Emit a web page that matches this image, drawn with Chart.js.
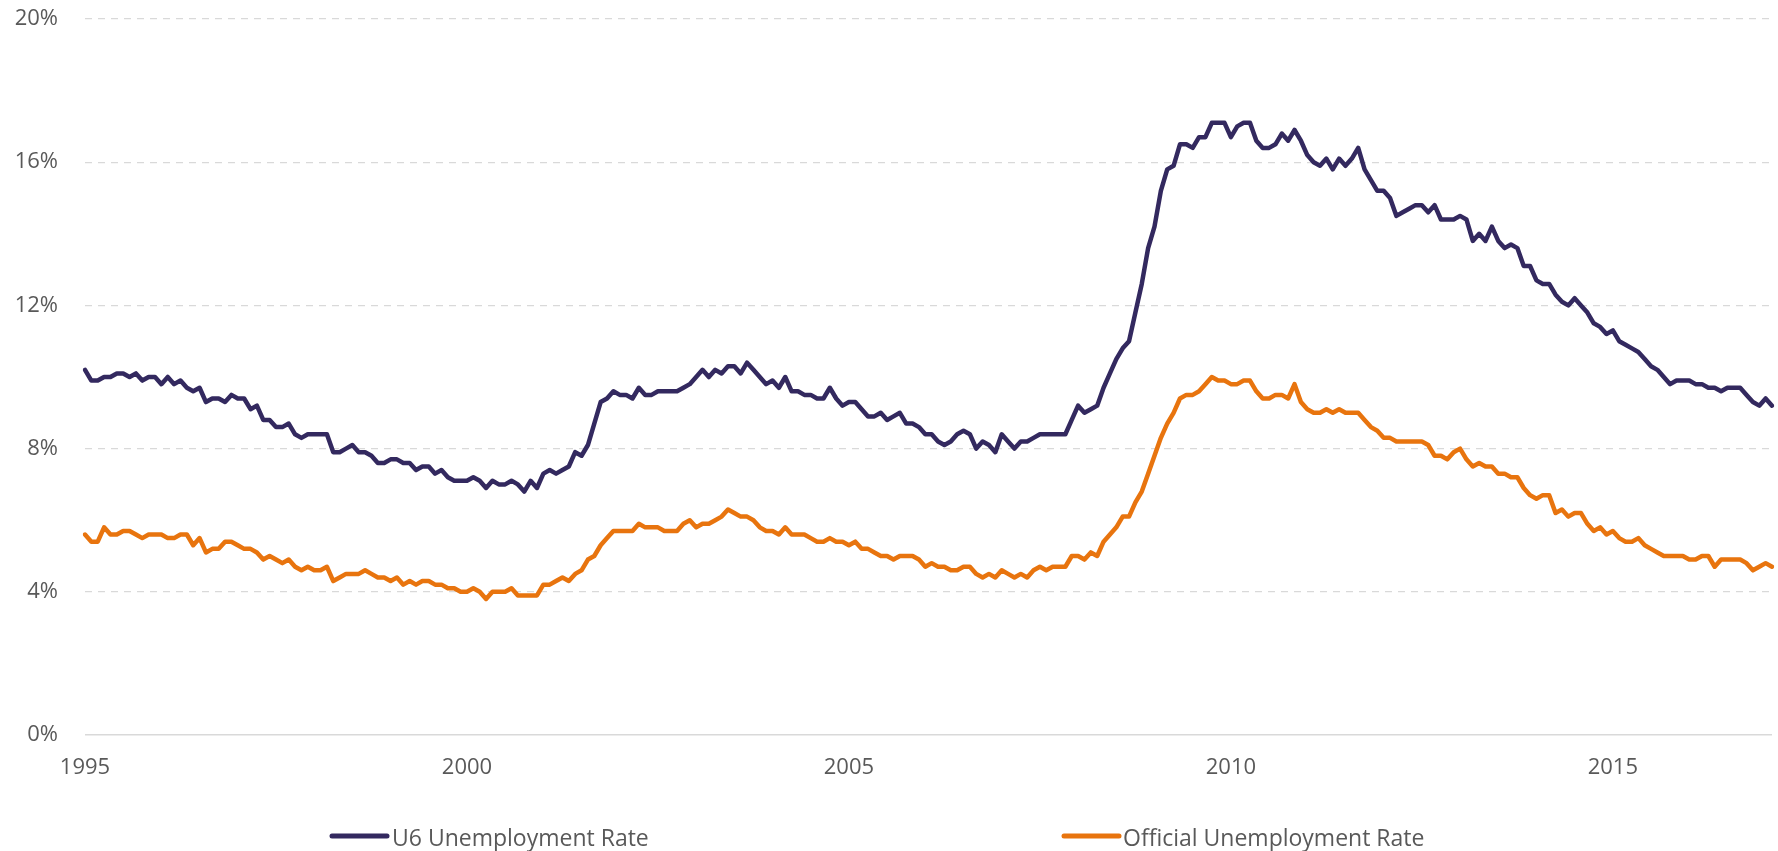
<!DOCTYPE html>
<html>
<head>
<meta charset="utf-8">
<title>U6 vs Official Unemployment Rate</title>
<script src="https://cdn.jsdelivr.net/npm/chart.js@4.4.1/dist/chart.umd.min.js"></script>
<style>
    html, body { margin: 0; padding: 0; background: #ffffff; }
    #wrap { width: 1778px; height: 851px; }
</style>
</head>
<body>
<div id="wrap"><canvas id="rateChart" width="1778" height="851"></canvas></div>
<script>
/* ===============================
   DATA (monthly, Jan 1995 - Feb 2017)
================================ */
const startYear = 1995;

const u6Rate = [
    10.2, 9.9, 9.9, 10.0, 10.0, 10.1, 10.1, 10.0, 10.1, 9.9, 10.0, 10.0,   // 1995
    9.8, 10.0, 9.8, 9.9, 9.7, 9.6, 9.7, 9.3, 9.4, 9.4, 9.3, 9.5,           // 1996
    9.4, 9.4, 9.1, 9.2, 8.8, 8.8, 8.6, 8.6, 8.7, 8.4, 8.3, 8.4,            // 1997
    8.4, 8.4, 8.4, 7.9, 7.9, 8.0, 8.1, 7.9, 7.9, 7.8, 7.6, 7.6,            // 1998
    7.7, 7.7, 7.6, 7.6, 7.4, 7.5, 7.5, 7.3, 7.4, 7.2, 7.1, 7.1,            // 1999
    7.1, 7.2, 7.1, 6.9, 7.1, 7.0, 7.0, 7.1, 7.0, 6.8, 7.1, 6.9,            // 2000
    7.3, 7.4, 7.3, 7.4, 7.5, 7.9, 7.8, 8.1, 8.7, 9.3, 9.4, 9.6,            // 2001
    9.5, 9.5, 9.4, 9.7, 9.5, 9.5, 9.6, 9.6, 9.6, 9.6, 9.7, 9.8,            // 2002
    10.0, 10.2, 10.0, 10.2, 10.1, 10.3, 10.3, 10.1, 10.4, 10.2, 10.0, 9.8, // 2003
    9.9, 9.7, 10.0, 9.6, 9.6, 9.5, 9.5, 9.4, 9.4, 9.7, 9.4, 9.2,           // 2004
    9.3, 9.3, 9.1, 8.9, 8.9, 9.0, 8.8, 8.9, 9.0, 8.7, 8.7, 8.6,            // 2005
    8.4, 8.4, 8.2, 8.1, 8.2, 8.4, 8.5, 8.4, 8.0, 8.2, 8.1, 7.9,            // 2006
    8.4, 8.2, 8.0, 8.2, 8.2, 8.3, 8.4, 8.4, 8.4, 8.4, 8.4, 8.8,            // 2007
    9.2, 9.0, 9.1, 9.2, 9.7, 10.1, 10.5, 10.8, 11.0, 11.8, 12.6, 13.6,     // 2008
    14.2, 15.2, 15.8, 15.9, 16.5, 16.5, 16.4, 16.7, 16.7, 17.1, 17.1, 17.1, // 2009
    16.7, 17.0, 17.1, 17.1, 16.6, 16.4, 16.4, 16.5, 16.8, 16.6, 16.9, 16.6, // 2010
    16.2, 16.0, 15.9, 16.1, 15.8, 16.1, 15.9, 16.1, 16.4, 15.8, 15.5, 15.2, // 2011
    15.2, 15.0, 14.5, 14.6, 14.7, 14.8, 14.8, 14.6, 14.8, 14.4, 14.4, 14.4, // 2012
    14.5, 14.4, 13.8, 14.0, 13.8, 14.2, 13.8, 13.6, 13.7, 13.6, 13.1, 13.1, // 2013
    12.7, 12.6, 12.6, 12.3, 12.1, 12.0, 12.2, 12.0, 11.8, 11.5, 11.4, 11.2, // 2014
    11.3, 11.0, 10.9, 10.8, 10.7, 10.5, 10.3, 10.2, 10.0, 9.8, 9.9, 9.9,   // 2015
    9.9, 9.8, 9.8, 9.7, 9.7, 9.6, 9.7, 9.7, 9.7, 9.5, 9.3, 9.2,            // 2016
    9.4, 9.2                                                              // 2017
];

const officialRate = [
    5.6, 5.4, 5.4, 5.8, 5.6, 5.6, 5.7, 5.7, 5.6, 5.5, 5.6, 5.6,   // 1995
    5.6, 5.5, 5.5, 5.6, 5.6, 5.3, 5.5, 5.1, 5.2, 5.2, 5.4, 5.4,   // 1996
    5.3, 5.2, 5.2, 5.1, 4.9, 5.0, 4.9, 4.8, 4.9, 4.7, 4.6, 4.7,   // 1997
    4.6, 4.6, 4.7, 4.3, 4.4, 4.5, 4.5, 4.5, 4.6, 4.5, 4.4, 4.4,   // 1998
    4.3, 4.4, 4.2, 4.3, 4.2, 4.3, 4.3, 4.2, 4.2, 4.1, 4.1, 4.0,   // 1999
    4.0, 4.1, 4.0, 3.8, 4.0, 4.0, 4.0, 4.1, 3.9, 3.9, 3.9, 3.9,   // 2000
    4.2, 4.2, 4.3, 4.4, 4.3, 4.5, 4.6, 4.9, 5.0, 5.3, 5.5, 5.7,   // 2001
    5.7, 5.7, 5.7, 5.9, 5.8, 5.8, 5.8, 5.7, 5.7, 5.7, 5.9, 6.0,   // 2002
    5.8, 5.9, 5.9, 6.0, 6.1, 6.3, 6.2, 6.1, 6.1, 6.0, 5.8, 5.7,   // 2003
    5.7, 5.6, 5.8, 5.6, 5.6, 5.6, 5.5, 5.4, 5.4, 5.5, 5.4, 5.4,   // 2004
    5.3, 5.4, 5.2, 5.2, 5.1, 5.0, 5.0, 4.9, 5.0, 5.0, 5.0, 4.9,   // 2005
    4.7, 4.8, 4.7, 4.7, 4.6, 4.6, 4.7, 4.7, 4.5, 4.4, 4.5, 4.4,   // 2006
    4.6, 4.5, 4.4, 4.5, 4.4, 4.6, 4.7, 4.6, 4.7, 4.7, 4.7, 5.0,   // 2007
    5.0, 4.9, 5.1, 5.0, 5.4, 5.6, 5.8, 6.1, 6.1, 6.5, 6.8, 7.3,   // 2008
    7.8, 8.3, 8.7, 9.0, 9.4, 9.5, 9.5, 9.6, 9.8, 10.0, 9.9, 9.9,  // 2009
    9.8, 9.8, 9.9, 9.9, 9.6, 9.4, 9.4, 9.5, 9.5, 9.4, 9.8, 9.3,   // 2010
    9.1, 9.0, 9.0, 9.1, 9.0, 9.1, 9.0, 9.0, 9.0, 8.8, 8.6, 8.5,   // 2011
    8.3, 8.3, 8.2, 8.2, 8.2, 8.2, 8.2, 8.1, 7.8, 7.8, 7.7, 7.9,   // 2012
    8.0, 7.7, 7.5, 7.6, 7.5, 7.5, 7.3, 7.3, 7.2, 7.2, 6.9, 6.7,   // 2013
    6.6, 6.7, 6.7, 6.2, 6.3, 6.1, 6.2, 6.2, 5.9, 5.7, 5.8, 5.6,   // 2014
    5.7, 5.5, 5.4, 5.4, 5.5, 5.3, 5.2, 5.1, 5.0, 5.0, 5.0, 5.0,   // 2015
    4.9, 4.9, 5.0, 5.0, 4.7, 4.9, 4.9, 4.9, 4.9, 4.8, 4.6, 4.7,   // 2016
    4.8, 4.7                                                     // 2017
];

const yearTicks = [1995, 2000, 2005, 2010, 2015];
const seriesNames = ["U6 Unemployment Rate", "Official Unemployment Rate"];

// month labels "YYYY-MM"
const monthLabels = u6Rate.map((_, i) =>
    (startYear + Math.floor(i / 12)) + "-" + String(i % 12 + 1).padStart(2, "0")
);

/* ===============================
   STYLE
================================ */
const FONT = '"Open Sans", "Liberation Sans", sans-serif';
const TEXT_COLOR = "#595959";
const GRID_COLOR = "#d9d9d9";
const COLORS = ["#33295f", "#e8740e"];

/* ===============================
   LEGEND (drawn under the axis)
================================ */
const bottomLegend = {
    id: "bottomLegend",
    afterDraw(chart) {
        const ctx = chart.ctx;
        const y = 836;
        const items = [
            { lineFrom: 332, lineTo: 387, textX: 392 },
            { lineFrom: 1064, lineTo: 1119, textX: 1123 }
        ];
        ctx.save();
        ctx.font = "23px " + FONT;
        ctx.textBaseline = "middle";
        ctx.textAlign = "left";
        chart.data.datasets.forEach((ds, i) => {
            const it = items[i];
            ctx.strokeStyle = ds.borderColor;
            ctx.lineWidth = 5;
            ctx.lineCap = "round";
            ctx.beginPath();
            ctx.moveTo(it.lineFrom, y);
            ctx.lineTo(it.lineTo, y);
            ctx.stroke();
            ctx.fillStyle = TEXT_COLOR;
            ctx.fillText(ds.label, it.textX, y + 3);
        });
        ctx.restore();
    }
};

/* ===============================
   CHART
================================ */
document.addEventListener("DOMContentLoaded", () => {
    const ctx = document.getElementById("rateChart").getContext("2d");

    new Chart(ctx, {
        type: "line",
        data: {
            labels: monthLabels,
            datasets: [
                {
                    label: seriesNames[0],
                    data: u6Rate,
                    borderColor: COLORS[0],
                    backgroundColor: COLORS[0],
                    borderWidth: 4.5,
                    pointRadius: 0,
                    tension: 0,
                    borderJoinStyle: "round",
                    borderCapStyle: "round"
                },
                {
                    label: seriesNames[1],
                    data: officialRate,
                    borderColor: COLORS[1],
                    backgroundColor: COLORS[1],
                    borderWidth: 4.5,
                    pointRadius: 0,
                    tension: 0,
                    borderJoinStyle: "round",
                    borderCapStyle: "round"
                }
            ]
        },
        options: {
            responsive: false,
            animation: false,
            devicePixelRatio: 1,
            layout: {
                padding: { top: 19, right: 6, bottom: 0, left: 0 }
            },
            plugins: {
                legend: { display: false },
                tooltip: { enabled: false }
            },
            scales: {
                x: {
                    type: "category",
                    offset: false,
                    grid: { display: false, drawTicks: false },
                    border: { display: false },
                    ticks: {
                        autoSkip: false,
                        maxRotation: 0,
                        padding: 20,
                        color: TEXT_COLOR,
                        font: { family: FONT, size: 22 },
                        callback: function (value) {
                            const lab = this.getLabelForValue(value);
                            const yr = parseInt(lab.slice(0, 4), 10);
                            return lab.endsWith("-01") && yearTicks.includes(yr) ? String(yr) : null;
                        }
                    },
                    afterFit: scale => { scale.height = 116; }
                },
                y: {
                    min: 0,
                    max: 20,
                    grid: {
                        color: GRID_COLOR,
                        lineWidth: c => c.tick.value === 0 ? 1.6 : 1.3,
                        drawTicks: false
                    },
                    border: {
                        display: false,
                        dash: c => c.tick && c.tick.value === 0 ? [] : [7, 6]
                    },
                    ticks: {
                        stepSize: 4,
                        padding: 27,
                        color: TEXT_COLOR,
                        font: { family: FONT, size: 22 },
                        callback: value => value + "%"
                    },
                    afterFit: scale => {
                        scale.width = 85;
                        // keep the tick padding from pushing the plot top down
                        scale.paddingTop = 0;
                        scale.paddingBottom = 0;
                    }
                }
            }
        },
        plugins: [bottomLegend]
    });
});
</script>
</body>
</html>
